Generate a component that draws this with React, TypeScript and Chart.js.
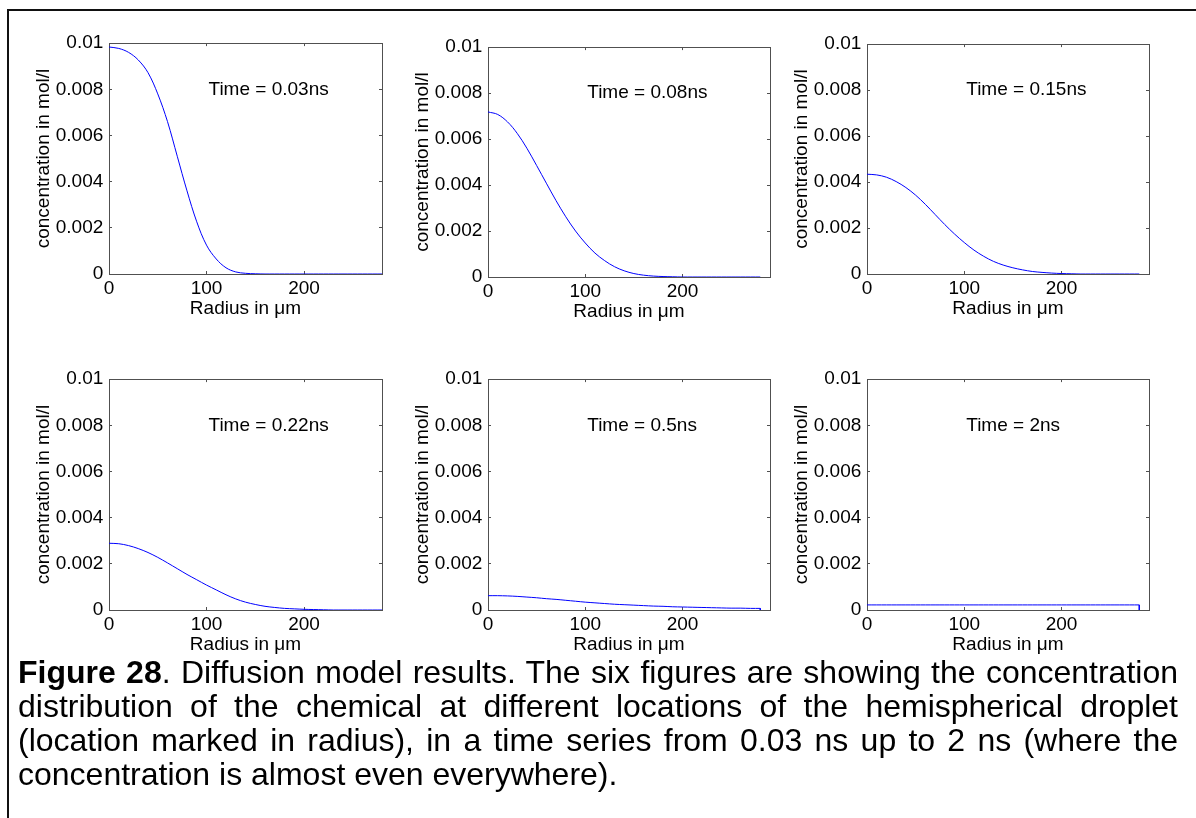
import React, { useEffect, useRef } from "react";
import { Chart, registerables } from "chart.js";

Chart.register(...registerables);

// ---------------- data ----------------
const RADIUS = [0, 10, 20, 30, 40, 50, 60, 70, 80, 90, 100, 110, 120, 130, 140, 150, 160, 170, 180, 190, 200, 210, 220, 230, 240, 250, 260, 270, 280];

const TIME_LABELS = ["Time = 0.03ns", "Time = 0.08ns", "Time = 0.15ns", "Time = 0.22ns", "Time = 0.5ns", "Time = 2ns"];

const CONC_T003 = [0.00983, 0.00977, 0.0096, 0.00927, 0.00872, 0.0078, 0.0066, 0.0051, 0.0036, 0.00226, 0.00125, 0.00065, 0.00027, 0.00009, 0.00003, 0.00001, 0, 0, 0, 0, 0, 0, 0, 0, 0, 0, 0, 0, 0];
const CONC_T008 = [0.00718, 0.00707, 0.00675, 0.00625, 0.0056, 0.00485, 0.00408, 0.00332, 0.00262, 0.002, 0.00148, 0.00104, 0.00071, 0.00045, 0.00027, 0.00015, 0.00008, 0.00004, 0.00002, 0.00001, 0, 0, 0, 0, 0, 0, 0, 0, 0];
const CONC_T015 = [0.00434, 0.00431, 0.00421, 0.00402, 0.00376, 0.00343, 0.00303, 0.00259, 0.00215, 0.00174, 0.00137, 0.00104, 0.00077, 0.00055, 0.00039, 0.00027, 0.00018, 0.00011, 0.00007, 0.00004, 0.00002, 0.00001, 0, 0, 0, 0, 0, 0, 0];
const CONC_T022 = [0.00289, 0.00287, 0.00279, 0.00266, 0.00249, 0.00228, 0.00204, 0.00179, 0.00154, 0.00131, 0.00108, 0.00087, 0.00066, 0.00048, 0.00034, 0.00024, 0.00016, 0.00011, 0.00007, 0.00005, 0.00003, 0.00002, 0.00001, 0, 0, 0, 0, 0, 0];
const CONC_T05 = [0.00062, 0.00062, 0.00061, 0.00059, 0.00056, 0.00053, 0.00049, 0.00046, 0.00042, 0.00038, 0.00034, 0.00031, 0.00028, 0.00025, 0.00023, 0.00021, 0.00019, 0.00017, 0.00016, 0.00014, 0.00013, 0.00012, 0.00011, 0.0001, 0.00009, 0.00008, 0.00008, 0.00007, 0.00007];
const CONC_T2 = [0.00022, 0.00022, 0.00022, 0.00022, 0.00022, 0.00022, 0.00022, 0.00022, 0.00022, 0.00022, 0.00022, 0.00022, 0.00022, 0.00022, 0.00022, 0.00022, 0.00022, 0.00022, 0.00022, 0.00022, 0.00022, 0.00022, 0.00022, 0.00022, 0.00022, 0.00022, 0.00022, 0.00022, 0.00022];

const SERIES = [CONC_T003, CONC_T008, CONC_T015, CONC_T022, CONC_T05, CONC_T2];

const X_MAX = [280, 290, 290, 280, 290, 290];
const X_TICKS = [0, 100, 200];
const Y_MIN = 0;
const Y_MAX = 0.01;
const Y_TICKS = [0, 0.002, 0.004, 0.006, 0.008, 0.01];
const Y_TICK_LABELS = ["0", "0.002", "0.004", "0.006", "0.008", "0.01"];
const LABEL_R = 100;
const LABEL_C = 0.008;

const X_TITLE = "Radius in \u03bcm";
const Y_TITLE = "concentration in mol/l";

// ---------------- layout / style ----------------
const BOXES = [
  { l: 109, r: 382, t: 43, b: 274 },
  { l: 488, r: 770, t: 47, b: 277 },
  { l: 867, r: 1149, t: 44, b: 274 },
  { l: 109, r: 382, t: 379, b: 610 },
  { l: 488, r: 770, t: 379, b: 610 },
  { l: 867, r: 1149, t: 379, b: 610 },
];
const PAD_L = 100;
const PAD_R = 30;
const PAD_T = 20;
const PAD_B = 60;
const FONT_FAMILY = '"Liberation Sans", Arial, Helvetica, sans-serif';
const AXIS_COLOR = "#505050";
const LINE_COLOR = "rgb(0,0,255)";
const FONT = { family: FONT_FAMILY, size: 19 };
const TICK_LEN = -3;

function Panel({ idx }: { idx: number }) {
  const ref = useRef<HTMLCanvasElement | null>(null);
  const box = BOXES[idx];
  const W = box.r - box.l + PAD_L + PAD_R;
  const H = box.b - box.t + PAD_T + PAD_B;

  useEffect(() => {
    if (!ref.current) return;
    const values = SERIES[idx];
    const pts = RADIUS.map((r, i) => ({ x: r, y: values[i] }));
    const lastR = RADIUS[RADIUS.length - 1];
    const lastC = values[values.length - 1];
    const xMax = X_MAX[idx];

    const grid = { display: true, drawOnChartArea: false, drawTicks: true, tickLength: TICK_LEN, color: AXIS_COLOR, lineWidth: 1 };
    const border = { display: true, color: AXIS_COLOR, width: 1 };
    const xTicks = (s: any) => { s.ticks = X_TICKS.map((v) => ({ value: v })); };
    const yTicks = (s: any) => { s.ticks = Y_TICKS.map((v) => ({ value: v })); };

    const timeLabel = {
      id: "timeLabel",
      afterDatasetsDraw(chart: any) {
        const { ctx, scales } = chart;
        ctx.save();
        ctx.font = `19px ${FONT_FAMILY}`;
        ctx.fillStyle = "#000";
        ctx.textAlign = "left";
        ctx.textBaseline = "middle";
        ctx.fillText(TIME_LABELS[idx], scales.x.getPixelForValue(LABEL_R) + 2, scales.y.getPixelForValue(LABEL_C));
        ctx.restore();
      },
    };

    const chart = new Chart(ref.current, {
      type: "line",
      data: {
        datasets: [
          { data: pts, borderColor: LINE_COLOR, borderWidth: 1, pointRadius: 0, tension: 0.35, fill: false },
          { data: [{ x: lastR, y: lastC }, { x: lastR, y: 0 }], borderColor: LINE_COLOR, borderWidth: 1, pointRadius: 0, tension: 0, fill: false },
        ],
      },
      options: {
        responsive: false,
        maintainAspectRatio: false,
        animation: false,
        events: [],
        layout: { padding: { left: 0, top: PAD_T, right: PAD_R, bottom: 0 } },
        plugins: { legend: { display: false }, tooltip: { enabled: false }, title: { display: false } },
        scales: {
          x: {
            type: "linear", position: "bottom", min: 0, max: xMax,
            afterBuildTicks: xTicks,
            afterFit: (s: any) => { s.height = PAD_B; },
            ticks: { font: FONT, color: "#000", padding: 6.5, autoSkip: false, maxRotation: 0, callback: (v: any) => String(v) },
            grid, border,
            title: { display: true, text: X_TITLE, font: FONT, color: "#000", padding: { top: 0, bottom: 14 } },
          },
          x2: {
            axis: "x", type: "linear", position: "top", min: 0, max: xMax,
            afterBuildTicks: xTicks,
            afterFit: (s: any) => { s.height = 0; },
            ticks: { display: false },
            grid, border,
          },
          y: {
            type: "linear", position: "left", min: Y_MIN, max: Y_MAX,
            afterBuildTicks: yTicks,
            afterFit: (s: any) => { s.width = PAD_L; },
            ticks: {
              font: FONT, color: "#000", padding: 8.7, autoSkip: false,
              callback: (v: any) => { const k = Y_TICKS.findIndex((t) => Math.abs(t - v) < 1e-9); return k >= 0 ? Y_TICK_LABELS[k] : ""; },
            },
            grid, border,
            title: { display: true, text: Y_TITLE, font: FONT, color: "#000", padding: { top: 23.5, bottom: 0 } },
          },
          y2: {
            axis: "y", type: "linear", position: "right", min: Y_MIN, max: Y_MAX,
            afterBuildTicks: yTicks,
            afterFit: (s: any) => { s.width = 0; },
            ticks: { display: false },
            grid, border,
          },
        },
      } as any,
      plugins: [timeLabel],
    } as any);
    return () => chart.destroy();
  }, [idx]);

  return (
    <canvas
      ref={ref}
      width={W}
      height={H}
      style={{ position: "absolute", left: box.l - PAD_L, top: box.t - PAD_T, width: W, height: H, display: "block" }}
    />
  );
}

export default function App() {
  return (
    <div style={{ position: "fixed", left: 0, top: 0, width: 1196, height: 818, background: "#fff", overflow: "hidden" }}>
      <div style={{ position: "absolute", left: 7, top: 9, width: 1200, height: 820, borderLeft: "2px solid #111", borderTop: "2px solid #111" }} />
      {BOXES.map((_, i) => (
        <Panel key={i} idx={i} />
      ))}
      <div
        style={{
          position: "absolute", left: 18, top: 655, width: 1160,
          fontFamily: FONT_FAMILY, fontSize: 32, lineHeight: "34px", textAlign: "justify", color: "#000",
        }}
      >
        <b>Figure 28</b>. Diffusion model results. The six figures are showing the concentration distribution of the chemical at different locations of the hemispherical droplet (location marked in radius), in a time series from 0.03 ns up to 2 ns (where the concentration is almost even everywhere).
      </div>
    </div>
  );
}
